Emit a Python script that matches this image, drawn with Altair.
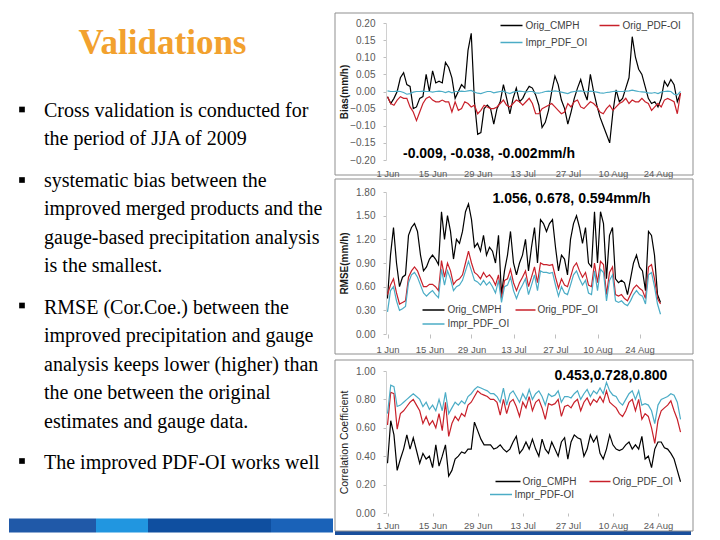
import altair as alt
import pandas as pd

# ---------------- data ----------------
days = list(range(92))  # 1 Jun .. 31 Aug 2009
tick_days = [0, 14, 28, 42, 56, 70, 84]
tick_labels = ["1 Jun", "15 Jun", "29 Jun", "13 Jul", "27 Jul", "10 Aug", "24 Aug"]

bias_cmph = [
    -0.015, -0.035, -0.02, 0.0, 0.04, 0.055, 0.02, 0.015, -0.05, -0.045,
    -0.02, -0.015, 0.05, 0.0, 0.06, 0.025, 0.03, 0.025, 0.085, 0.07,
    0.04, -0.02, 0.0, 0.02, 0.01, 0.12, 0.17, -0.03, -0.125, -0.12,
    -0.05, -0.04, -0.05, -0.095, -0.05, -0.03, 0.02, -0.02, -0.065, -0.02,
    0.01, -0.03, -0.02, 0.0, 0.015, 0.01, -0.01, -0.04, -0.105, -0.09,
    -0.055, 0.0, 0.045, 0.02, -0.025, -0.05, -0.095, -0.06, -0.02, 0.01,
    0.035, 0.0, -0.025, 0.05, 0.0, -0.04, -0.075, -0.1, -0.125, -0.15,
    -0.06, 0.005, -0.03, -0.02, 0.01, 0.04, 0.16, 0.1, 0.065, 0.05,
    0.015, -0.02, -0.035, -0.03, -0.045, -0.02, 0.03, 0.015, 0.035, 0.02,
    -0.03, -0.005,
]
bias_pdf = [
    -0.015, -0.035, -0.04, -0.025, -0.015, -0.02, -0.02, -0.045, -0.06, -0.085,
    -0.06, -0.035, -0.02, -0.015, -0.025, -0.03, -0.03, -0.025, -0.03, -0.03,
    -0.06, -0.03, -0.055, -0.05, -0.03, -0.035, -0.045, -0.04, -0.065, -0.055,
    -0.04, -0.045, -0.05, -0.05, -0.045, -0.035, -0.025, -0.04, -0.045, -0.035,
    -0.025, -0.03, -0.04, -0.03, -0.02, -0.035, -0.065, -0.065, -0.05, -0.045,
    -0.04, -0.035, -0.045, -0.055, -0.065, -0.06, -0.035, -0.045, -0.03, -0.025,
    -0.045, -0.05, -0.04, -0.03, -0.035, -0.045, -0.06, -0.065, -0.05, -0.04,
    -0.055, -0.045, -0.035, -0.03, -0.02, -0.035, -0.025, -0.03, -0.03, -0.02,
    -0.03, -0.035, -0.055, -0.045, -0.035, -0.045, -0.025, -0.02, -0.025, -0.03,
    -0.065, -0.005,
]
bias_impr = [
    0.002, 0.0, 0.0, 0.001, 0.0, -0.003, -0.008, -0.006, -0.002, 0.0,
    0.0, 0.001, 0.0, 0.0, -0.002, 0.0, 0.001, 0.0, -0.003, 0.0,
    -0.004, 0.0, 0.0, 0.001, 0.0, 0.002, 0.003, -0.002, -0.005, -0.006,
    -0.003, 0.0, 0.0, -0.004, -0.002, 0.0, 0.001, -0.003, -0.006, -0.002,
    0.0, 0.001, 0.0, -0.002, 0.0, 0.0, -0.004, -0.005, -0.003, 0.0,
    0.001, 0.0, 0.002, 0.0, -0.002, -0.004, -0.006, -0.002, 0.0, 0.001,
    0.002, 0.0, -0.001, 0.001, 0.0, -0.002, -0.004, -0.005, -0.003, -0.002,
    0.0, 0.001, 0.0, 0.0, 0.001, 0.002, 0.004, 0.002, 0.0, -0.001,
    -0.002, -0.004, -0.005, -0.003, -0.006, -0.002, 0.0, 0.001, 0.0, -0.008,
    -0.01, 0.0,
]

rmse_cmph = [
    0.45, 1.0, 1.35, 0.9, 0.6, 0.72, 0.75, 1.25, 1.35, 1.4,
    1.3, 1.0, 0.8, 0.85, 0.95, 1.0, 0.95, 0.88, 1.55, 1.2,
    1.5, 1.3, 0.95, 1.2, 1.15, 1.3, 1.55, 1.65, 1.45, 1.1,
    1.15, 1.05, 1.25, 1.0, 1.1, 1.05, 0.9, 1.25, 0.5, 0.8,
    1.0, 1.3, 0.9, 0.75, 0.9, 1.0, 1.2, 0.8, 1.1, 1.35,
    0.9, 1.45, 1.4, 1.3, 1.4, 1.45, 1.1, 0.8, 1.0, 0.95,
    0.75, 1.2, 1.4, 1.5, 1.35, 1.15, 1.35, 0.9, 0.85, 1.55,
    0.9, 1.55, 1.4, 0.7, 1.25, 1.35, 0.7, 0.65, 0.68, 0.65,
    0.5, 0.7, 0.9, 1.0, 0.85, 0.8, 0.55, 1.3, 1.25, 1.0,
    0.5, 0.4,
]
rmse_pdf = [
    0.5, 0.62, 0.7, 0.52, 0.38, 0.4, 0.42, 0.72, 0.8, 0.85,
    0.8, 0.7, 0.6, 0.6, 0.63, 0.63, 0.6, 0.55, 0.93, 0.72,
    0.9, 0.8, 0.63, 0.68, 0.7, 0.75, 0.9, 1.05, 0.9, 0.78,
    0.75, 0.7, 0.78, 0.72, 0.75, 0.7, 0.62, 0.75, 0.45, 0.68,
    0.7, 0.82, 0.65, 0.55, 0.65, 0.72, 0.8, 0.6, 0.72, 0.85,
    0.65, 0.9, 0.88, 0.88, 0.87, 0.88, 0.72, 0.58, 0.7, 0.62,
    0.6, 0.72, 0.85, 0.9, 0.8, 0.72, 0.78, 0.62, 0.6, 0.9,
    0.65, 0.92, 0.88, 0.5, 0.78, 0.85, 0.5, 0.48, 0.5, 0.45,
    0.42, 0.5, 0.58, 0.62, 0.58, 0.55, 0.45, 0.85, 0.88, 0.7,
    0.45, 0.38,
]
rmse_impr = [
    0.28, 0.55, 0.6, 0.42, 0.3, 0.32, 0.35, 0.65, 0.75, 0.78,
    0.72, 0.62, 0.52, 0.48, 0.52, 0.55, 0.5, 0.46, 0.82, 0.62,
    0.8, 0.7, 0.55, 0.6, 0.62, 0.68, 0.8, 0.92, 0.8, 0.68,
    0.66, 0.62, 0.68, 0.62, 0.66, 0.6, 0.52, 0.68, 0.4, 0.6,
    0.62, 0.72, 0.55, 0.45, 0.55, 0.62, 0.7, 0.5, 0.62, 0.75,
    0.55, 0.8, 0.78, 0.78, 0.77, 0.78, 0.62, 0.48, 0.6, 0.52,
    0.5, 0.62, 0.75, 0.8, 0.7, 0.62, 0.68, 0.52, 0.5, 0.8,
    0.55, 0.82, 0.78, 0.42, 0.68, 0.75, 0.42, 0.4, 0.42, 0.38,
    0.36, 0.42, 0.5, 0.55, 0.5, 0.48, 0.38, 0.75, 0.78, 0.6,
    0.38, 0.25,
]

corr_cmph = [
    0.35, 0.65, 0.55, 0.3, 0.38, 0.45, 0.55, 0.45, 0.53, 0.44,
    0.35, 0.42, 0.38, 0.4, 0.32, 0.48, 0.33, 0.4, 0.48, 0.26,
    0.3, 0.38, 0.4, 0.43, 0.42, 0.45, 0.45, 0.64, 0.58, 0.52,
    0.48, 0.48, 0.48, 0.45, 0.46, 0.48, 0.45, 0.43, 0.45, 0.5,
    0.54, 0.42, 0.45, 0.5, 0.45, 0.52, 0.45, 0.4, 0.52, 0.45,
    0.42, 0.5, 0.45, 0.4, 0.5, 0.53, 0.38, 0.5, 0.55, 0.53,
    0.52, 0.4, 0.45, 0.55, 0.5, 0.54, 0.42, 0.38, 0.45, 0.55,
    0.48, 0.45, 0.44, 0.45, 0.48, 0.5, 0.45, 0.48, 0.45, 0.54,
    0.38, 0.4, 0.32, 0.45, 0.5, 0.5, 0.46, 0.45, 0.42, 0.38,
    0.3, 0.22,
]
corr_pdf = [
    0.62, 0.85, 0.84, 0.59, 0.7, 0.72, 0.75, 0.78, 0.8, 0.76,
    0.72, 0.63, 0.68, 0.62, 0.65, 0.6, 0.7, 0.58, 0.78, 0.54,
    0.63, 0.68, 0.65, 0.7, 0.68, 0.76, 0.78, 0.82, 0.86, 0.84,
    0.83, 0.82, 0.8, 0.8, 0.78, 0.69, 0.8, 0.7, 0.78, 0.8,
    0.75, 0.68, 0.78, 0.74, 0.82, 0.72, 0.78, 0.8, 0.74, 0.66,
    0.77, 0.76, 0.77, 0.8, 0.68, 0.75, 0.76, 0.74, 0.78, 0.8,
    0.72, 0.78, 0.81, 0.76, 0.8, 0.78, 0.82, 0.78, 0.86, 0.78,
    0.76, 0.74, 0.7, 0.68, 0.72, 0.78, 0.8, 0.72, 0.8, 0.66,
    0.7, 0.68, 0.6, 0.49, 0.65, 0.72, 0.74, 0.76, 0.79, 0.72,
    0.66, 0.57,
]
corr_impr = [
    0.7, 0.9, 0.89, 0.75, 0.76, 0.78, 0.8, 0.82, 0.84, 0.82,
    0.8, 0.75, 0.78, 0.73, 0.76, 0.72, 0.8, 0.72, 0.85, 0.7,
    0.74, 0.78, 0.76, 0.79, 0.77, 0.82, 0.84, 0.87, 0.89, 0.88,
    0.87, 0.86, 0.84, 0.84, 0.82, 0.78, 0.88, 0.76, 0.84, 0.86,
    0.82, 0.78, 0.84, 0.8, 0.87, 0.8, 0.84, 0.86, 0.82, 0.76,
    0.84, 0.82, 0.83, 0.86, 0.78, 0.82, 0.82, 0.81, 0.84, 0.86,
    0.8, 0.84, 0.87, 0.82, 0.86, 0.84, 0.88, 0.84, 0.92, 0.86,
    0.83, 0.82, 0.78, 0.76, 0.8, 0.84, 0.86, 0.8, 0.86, 0.76,
    0.77, 0.76, 0.72, 0.63, 0.76, 0.8, 0.81, 0.82, 0.84, 0.83,
    0.78, 0.66,
]

bias_names = ["Orig_CMPH", "Orig_PDF-OI", "Impr_PDF_OI"]
rmse_names = ["Orig_CMPH", "Orig_PDF_OI", "Impr_PDF_OI"]
corr_names = ["Orig_CMPH", "Orig_PDF_OI", "Impr_PDF-OI"]

bias_ticks = [-0.2, -0.15, -0.1, -0.05, 0.0, 0.05, 0.1, 0.15, 0.2]
rmse_ticks = [0.0, 0.3, 0.6, 0.9, 1.2, 1.5, 1.8]
corr_ticks = [0.0, 0.2, 0.4, 0.6, 0.8, 1.0]

bias_note = "-0.009, -0.038, -0.002mm/h"
rmse_note = "1.056, 0.678, 0.594mm/h"
corr_note = "0.453,0.728,0.800"

slide_title = "Validations"
bullets = [
    "Cross validation is conducted for\nthe period of JJA of 2009",
    "systematic bias between the\nimproved merged products and the\ngauge-based precipitation analysis\nis the smallest.",
    "RMSE (Cor.Coe.) between the\nimproved precipitation and gauge\nanalysis keeps lower (higher) than\nthe one between the original\nestimates and gauge data.",
    "The improved PDF-OI works well",
]

# ---------------- styles / layout ----------------
COLORS = ["#000000", "#C8202A", "#4BACC6"]
LABEL_FONT = "Liberation Sans"
SERIF = "Liberation Serif"
W = 300
one = alt.Data(values=[{"k": 0}])
label_expr = "[" + ",".join("'%s'" % t for t in tick_labels) + "][round(datum.value / 14)]"


def panel(series, names, ydom, yticks, ytitle, tsize, tweight, H, xdom,
          fy, fy2, lab_pad, tick_size, note, note_xy, legend, bar=False, top_pad=None):
    rows = []
    for name, vals in zip(names, series):
        for d, v in zip(days, vals):
            rows.append({"day": d, "value": v, "series": name})
    df = pd.DataFrame(rows)
    xaxis = dict(values=tick_days, labelExpr=label_expr, title=None, grid=False,
                 domain=False, labelPadding=lab_pad, labelFlush=False,
                 labelOverlap=False, labelFontSize=9.5, labelColor="#595959",
                 labelFont=LABEL_FONT, zindex=1)
    if tick_size > 0:
        xaxis.update(ticks=True, tickSize=tick_size, tickColor="#bfbfbf")
    else:
        xaxis.update(ticks=False)
    x = alt.X("day:Q", scale=alt.Scale(domain=xdom, nice=False, zero=False),
              axis=alt.Axis(**xaxis))
    y = alt.Y("value:Q", scale=alt.Scale(domain=ydom, nice=False, zero=False),
              axis=alt.Axis(values=yticks, format=".2f", grid=False, domain=True,
                            domainColor="#d0d0d0", tickSize=3, tickColor="#bfbfbf",
                            labelPadding=8, labelFontSize=10, labelColor="#595959",
                            labelFont=LABEL_FONT, title=ytitle, titleX=-41.5,
                            titleY=H / 2, titleAngle=270, titleAlign="center",
                            titleBaseline="middle", titleFontSize=tsize,
                            titleFontWeight=tweight, titleColor="#1a1a1a",
                            titleFont=LABEL_FONT, zindex=1))
    layers = []
    if top_pad is not None:
        # invisible spacer that sets the panel's upper bound
        layers.append(alt.Chart(one).mark_rect(opacity=0).encode(
            x=alt.value(0), x2=alt.value(1), y=alt.value(top_pad), y2=alt.value(top_pad + 0.5)))
    if bar:
        layers.append(alt.Chart(one).mark_rect(color="#1a4f9c").encode(
            x=alt.value(-51), x2=alt.value(W + 5), y=alt.value(H + 8), y2=alt.value(H + 22)))
    layers.append(alt.Chart(one).mark_rect(fill="white", stroke="#8f8f8f", strokeWidth=1).encode(
        x=alt.value(-51), x2=alt.value(W + 7), y=alt.value(fy), y2=alt.value(H + fy2)))
    for name, col in zip(names, COLORS):
        layers.append(alt.Chart(df).transform_filter(alt.datum.series == name)
                      .mark_line(color=col, strokeWidth=1.2).encode(x=x, y=y))
    for (x0, x1, yy, lx), name, col in zip(legend, names, COLORS):
        layers.append(alt.Chart(one).mark_rule(color=col, strokeWidth=1.5).encode(
            x=alt.value(x0), x2=alt.value(x1), y=alt.value(yy)))
        layers.append(alt.Chart(one).mark_text(text=name, align="left", baseline="middle",
                                               font=LABEL_FONT, fontSize=10, color="#404040")
                      .encode(x=alt.value(lx), y=alt.value(yy)))
    layers.append(alt.Chart(one).mark_text(text=note, align="left", baseline="alphabetic",
                                           font=LABEL_FONT, fontSize=14, fontWeight="bold",
                                           color="black")
                  .encode(x=alt.value(note_xy[0]), y=alt.value(note_xy[1])))
    return alt.layer(*layers).properties(width=W, height=H)


c1 = panel([bias_cmph, bias_pdf, bias_impr], bias_names, [-0.2, 0.2], bias_ticks,
           "Bias(mm/h)", 10, "bold", 137, [-0.47, 92.7], -10, 15, 8, 0,
           bias_note, (17, 134.5),
           [(114.5, 136.5, 2.5, 139.5), (213.5, 233.5, 2.5, 236.5), (114.5, 136.5, 19.5, 139.5)])
c2 = panel([rmse_cmph, rmse_pdf, rmse_impr], rmse_names, [0, 1.8], rmse_ticks,
           "RMSE(mm/h)", 10, "bold", 142, [-0.5, 99.5], -13, 20, 6, 4,
           rmse_note, (106.5, 11),
           [(36.5, 58.5, 118, 61.5), (129.5, 149.5, 118, 151.5), (36.5, 58.5, 132, 61.5)])
c3 = panel([corr_cmph, corr_pdf, corr_impr], corr_names, [0, 1.0], corr_ticks,
           "Correlation Coefficient", 10.5, "normal", 142, [-0.47, 92.7], -11, 18, 4, 3,
           corr_note, (168.5, 8.5),
           [(109.5, 134.5, 110.5, 136.5), (203.5, 224.5, 110.5, 226.5), (104, 126, 123.5, 128.5)],
           bar=True, top_pad=-15.5)

right = alt.vconcat(c1, c2, c3, spacing=0)

# ---------------- left text panel ----------------
# origin of this panel sits at the same page height as the first plot's top (page y ~22.5)
LW, LH = 324, 509.5
left_layers = []
for x0, x1, col in [(0, 87, "#2059a8"), (87, 139, "#2196e0"), (139, 262, "#0f4fa0"), (262, 324, "#1a62b8")]:
    left_layers.append(alt.Chart(one).mark_rect(color=col).encode(
        x=alt.value(x0), x2=alt.value(x1), y=alt.value(495.5), y2=alt.value(LH)))
left_layers.append(alt.Chart(one).mark_text(text=slide_title, font=SERIF, fontSize=35,
                                            fontWeight="bold", color="#F2A12E",
                                            align="center", baseline="alphabetic")
                   .encode(x=alt.value(153.5), y=alt.value(30.5)))
for txt, base, by in zip(bullets, [93.5, 163.5, 290.5, 445.5], [86.5, 157, 282.5, 438]):
    left_layers.append(alt.Chart(one).mark_text(text=txt, lineBreak="\n", lineHeight=28.5,
                                                font=SERIF, fontSize=20, color="black",
                                                align="left", baseline="alphabetic")
                       .encode(x=alt.value(35), y=alt.value(base)))
    left_layers.append(alt.Chart(one).mark_square(size=32, color="black", opacity=1)
                       .encode(x=alt.value(13), y=alt.value(by)))
left = alt.layer(*left_layers).properties(width=LW, height=LH)

chart = alt.hconcat(left, right, spacing=0).properties(
    padding={"left": 0, "top": 4, "right": 0, "bottom": 0}
).configure_view(stroke="transparent")

chart.save("out.html", embed_options={"renderer": "svg", "actions": False})
